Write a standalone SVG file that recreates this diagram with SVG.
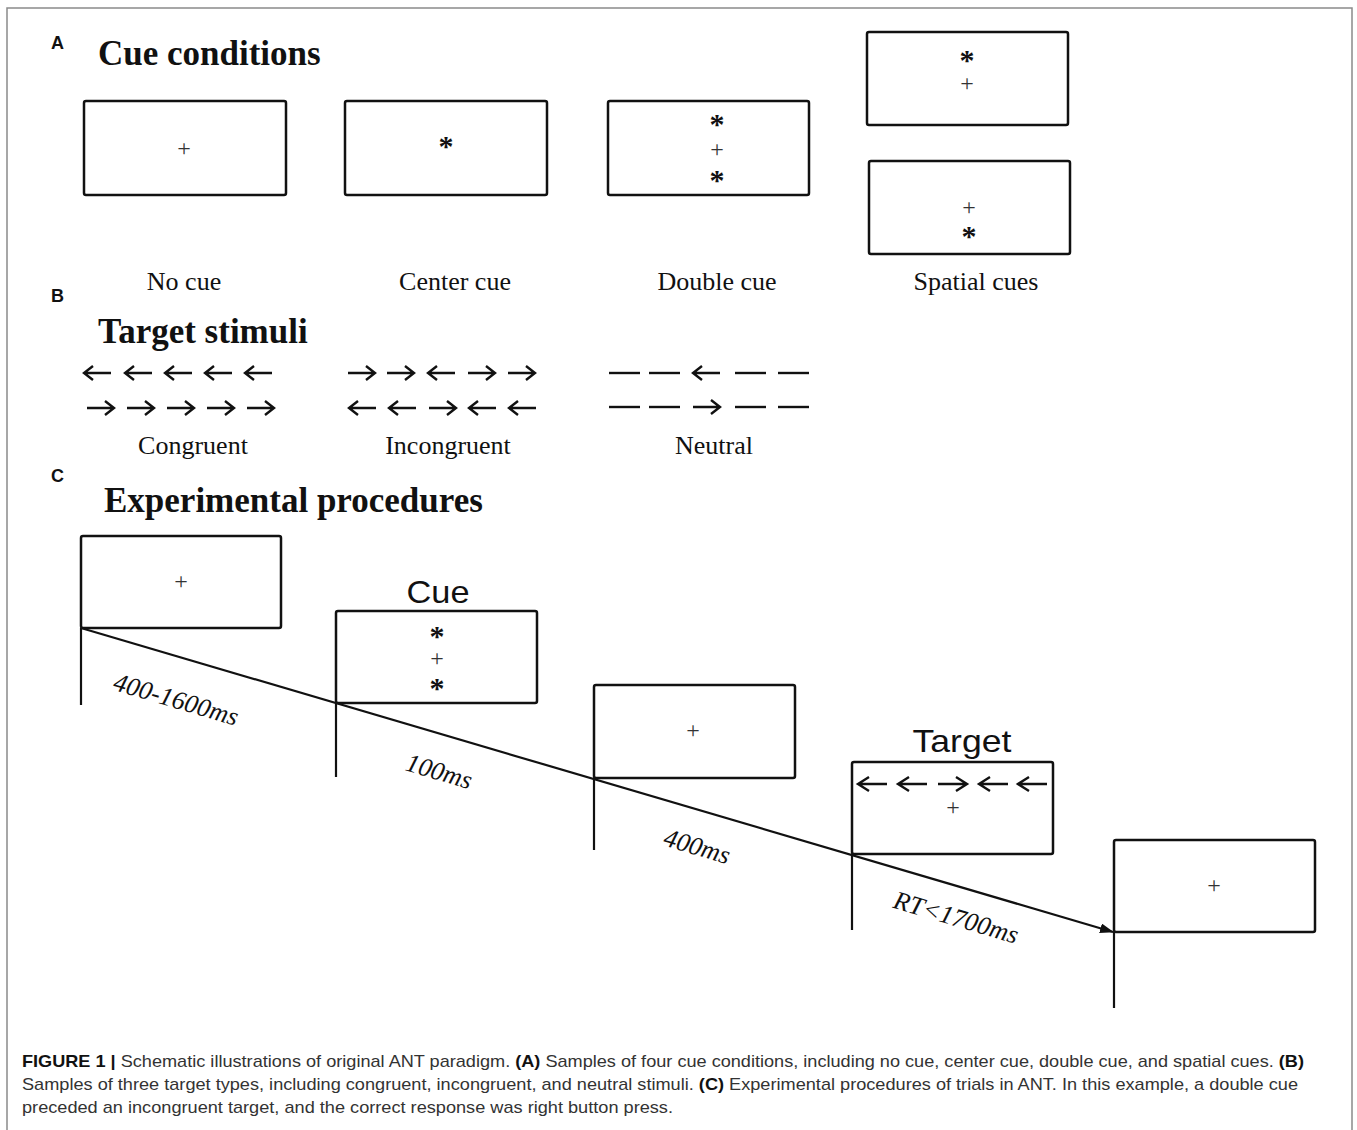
<svg xmlns="http://www.w3.org/2000/svg" width="1357" height="1130" viewBox="0 0 1357 1130">
<style>
.frame{fill:none;stroke:#8a8a8a;stroke-width:1.5}
.box{fill:#fff;stroke:#111;stroke-width:2.5}
.sym{fill:none;stroke:#111;stroke-width:2.4;stroke-linejoin:miter}
.conn{fill:none;stroke:#111;stroke-width:2.2}
.plus{font-family:"Liberation Serif",serif;font-size:24px;font-weight:normal;text-anchor:middle;fill:#333}
.star{font-family:"Liberation Serif",serif;font-weight:bold;font-size:30px;text-anchor:middle;fill:#111}
.panel{font-family:"Liberation Sans",Arial,sans-serif;font-weight:bold;font-size:18px;fill:#111}
.title{font-family:"Liberation Serif",serif;font-weight:bold;font-size:35px;fill:#111}
.lbl{font-family:"Liberation Serif",serif;font-size:26px;text-anchor:middle;fill:#111}
.big{font-family:"Liberation Sans",Arial,sans-serif;font-size:32px;text-anchor:middle;fill:#111}
.dur{font-family:"Liberation Serif",serif;font-style:italic;font-size:26px;text-anchor:middle;fill:#111}
.cap{font-family:"Liberation Sans",Arial,sans-serif;font-size:17px;fill:#333}
.cap .b{font-weight:bold;fill:#111}
</style>
<defs>
<path id="la" class="sym" d="M0,0 H27 M9,-7 L0,0 L9,7"/>
<path id="ra" class="sym" d="M0,0 H27 M18,-7 L27,0 L18,7"/>
<path id="da" class="sym" d="M0,0 H31"/>
<path id="tla" class="sym" d="M0,0 H29 M11,-7 L0,0 L11,7"/>
<path id="tra" class="sym" d="M0,0 H29 M18,-7 L29,0 L18,7"/>
<marker id="ah" viewBox="0 0 14 10" refX="13" refY="5" markerWidth="14" markerHeight="10" markerUnits="userSpaceOnUse" orient="auto">
<path d="M0,0 L14,5 L0,10 z" fill="#111"/>
</marker>
</defs>
<rect x="0" y="0" width="1357" height="1130" fill="#fff"/>
<rect class="frame" x="7" y="8" width="1345" height="1140"/>

<!-- Panel A -->
<g id="panelA">
<text class="panel" x="51" y="49">A</text>
<text class="title" x="98" y="65">Cue conditions</text>
</g>
<g id="no-cue">
<rect class="box" x="84" y="101" width="202" height="94" rx="2"/>
<text class="plus" x="184" y="156">+</text>
<text class="lbl" x="184" y="290">No cue</text>
</g>
<g id="center-cue">
<rect class="box" x="345" y="101" width="202" height="94" rx="2"/>
<text class="star" x="446" y="156">*</text>
<text class="lbl" x="455" y="290">Center cue</text>
</g>
<g id="double-cue">
<rect class="box" x="608" y="101" width="201" height="94" rx="2"/>
<text class="star" x="717" y="134">*<tspan class="plus" x="717" y="157">+</tspan><tspan x="717" y="190">*</tspan></text>
<text class="lbl" x="717" y="290">Double cue</text>
</g>
<g id="spatial-cues">
<rect class="box" x="867" y="32" width="201" height="93" rx="2"/>
<text class="star" x="967" y="70">*<tspan class="plus" x="967" y="91">+</tspan></text>
<rect class="box" x="869" y="161" width="201" height="93" rx="2"/>
<text class="plus" x="969" y="215">+<tspan class="star" x="969" y="246">*</tspan></text>
<text class="lbl" x="976" y="290">Spatial cues</text>
</g>

<!-- Panel B -->
<g id="panelB">
<text class="panel" x="51" y="302">B</text>
<text class="title" x="98" y="343">Target stimuli</text>
</g>
<g id="congruent">
<use href="#la" x="84" y="373"/><use href="#la" x="125" y="373"/><use href="#la" x="165" y="373"/><use href="#la" x="205" y="373"/><use href="#la" x="245" y="373"/>
<use href="#ra" x="87" y="408"/><use href="#ra" x="127" y="408"/><use href="#ra" x="167" y="408"/><use href="#ra" x="207" y="408"/><use href="#ra" x="247" y="408"/>
<text class="lbl" x="193" y="454">Congruent</text>
</g>
<g id="incongruent">
<use href="#ra" x="348" y="373"/><use href="#ra" x="387" y="373"/><use href="#la" x="428" y="373"/><use href="#ra" x="468" y="373"/><use href="#ra" x="508" y="373"/>
<use href="#la" x="349" y="408"/><use href="#la" x="389" y="408"/><use href="#ra" x="429" y="408"/><use href="#la" x="469" y="408"/><use href="#la" x="509" y="408"/>
<text class="lbl" x="448" y="454">Incongruent</text>
</g>
<g id="neutral">
<use href="#da" x="609" y="373"/><use href="#da" x="649" y="373"/><use href="#la" x="693" y="373"/><use href="#da" x="735" y="373"/><use href="#da" x="778" y="373"/>
<use href="#da" x="609" y="407"/><use href="#da" x="649" y="407"/><use href="#ra" x="693" y="407"/><use href="#da" x="735" y="407"/><use href="#da" x="778" y="407"/>
<text class="lbl" x="714" y="454">Neutral</text>
</g>

<!-- Panel C -->
<g id="panelC">
<text class="panel" x="51" y="482">C</text>
<text class="title" x="104" y="512">Experimental procedures</text>
</g>

<g id="connectors">
<line class="conn" x1="81" y1="628" x2="81" y2="705"/>
<line class="conn" x1="336" y1="703" x2="336" y2="777"/>
<line class="conn" x1="594" y1="778" x2="594" y2="850"/>
<line class="conn" x1="852" y1="854" x2="852" y2="930"/>
<line class="conn" x1="1114" y1="932" x2="1114" y2="1008"/>
<line class="conn" x1="81" y1="628" x2="1113" y2="932" marker-end="url(#ah)"/>
</g>

<g id="fixation1">
<rect class="box" x="81" y="536" width="200" height="92" rx="2"/>
<text class="plus" x="181" y="589">+</text>
</g>
<g id="cue">
<text class="big" x="438" y="603" textLength="63" lengthAdjust="spacingAndGlyphs">Cue</text>
<rect class="box" x="336" y="611" width="201" height="92" rx="2"/>
<text class="star" x="437" y="646">*<tspan class="plus" x="437" y="666">+</tspan><tspan x="437" y="698">*</tspan></text>
</g>
<g id="fixation2">
<rect class="box" x="594" y="685" width="201" height="93" rx="2"/>
<text class="plus" x="693" y="738">+</text>
</g>
<g id="target">
<text class="big" x="962" y="752" textLength="99" lengthAdjust="spacingAndGlyphs">Target</text>
<rect class="box" x="852" y="762" width="201" height="92" rx="2"/>
<use href="#tla" x="858" y="784"/><use href="#tla" x="898" y="784"/><use href="#tra" x="938" y="784"/><use href="#tla" x="979" y="784"/><use href="#tla" x="1018" y="784"/>
<text class="plus" x="953" y="815">+</text>
</g>
<g id="fixation3">
<rect class="box" x="1114" y="840" width="201" height="92" rx="2"/>
<text class="plus" x="1214" y="893">+</text>
</g>

<g id="durations">
<text class="dur" transform="translate(176,700) rotate(16.4)" y="8">400-1600ms</text>
<text class="dur" transform="translate(439,772) rotate(16.4)" y="8">100ms</text>
<text class="dur" transform="translate(697,847) rotate(16.4)" y="8">400ms</text>
<text class="dur" transform="translate(956,918) rotate(16.4)" y="8">RT&lt;1700ms</text>
</g>

<g id="caption">
<text class="cap" x="22" y="1067" textLength="1282" lengthAdjust="spacingAndGlyphs"><tspan class="b">FIGURE 1 |</tspan> Schematic illustrations of original ANT paradigm. <tspan class="b">(A)</tspan> Samples of four cue conditions, including no cue, center cue, double cue, and spatial cues. <tspan class="b">(B)</tspan></text>
<text class="cap" x="22" y="1090" textLength="1276" lengthAdjust="spacingAndGlyphs">Samples of three target types, including congruent, incongruent, and neutral stimuli. <tspan class="b">(C)</tspan> Experimental procedures of trials in ANT. In this example, a double cue</text>
<text class="cap" x="22" y="1113" textLength="651" lengthAdjust="spacingAndGlyphs">preceded an incongruent target, and the correct response was right button press.</text>
</g>
</svg>
